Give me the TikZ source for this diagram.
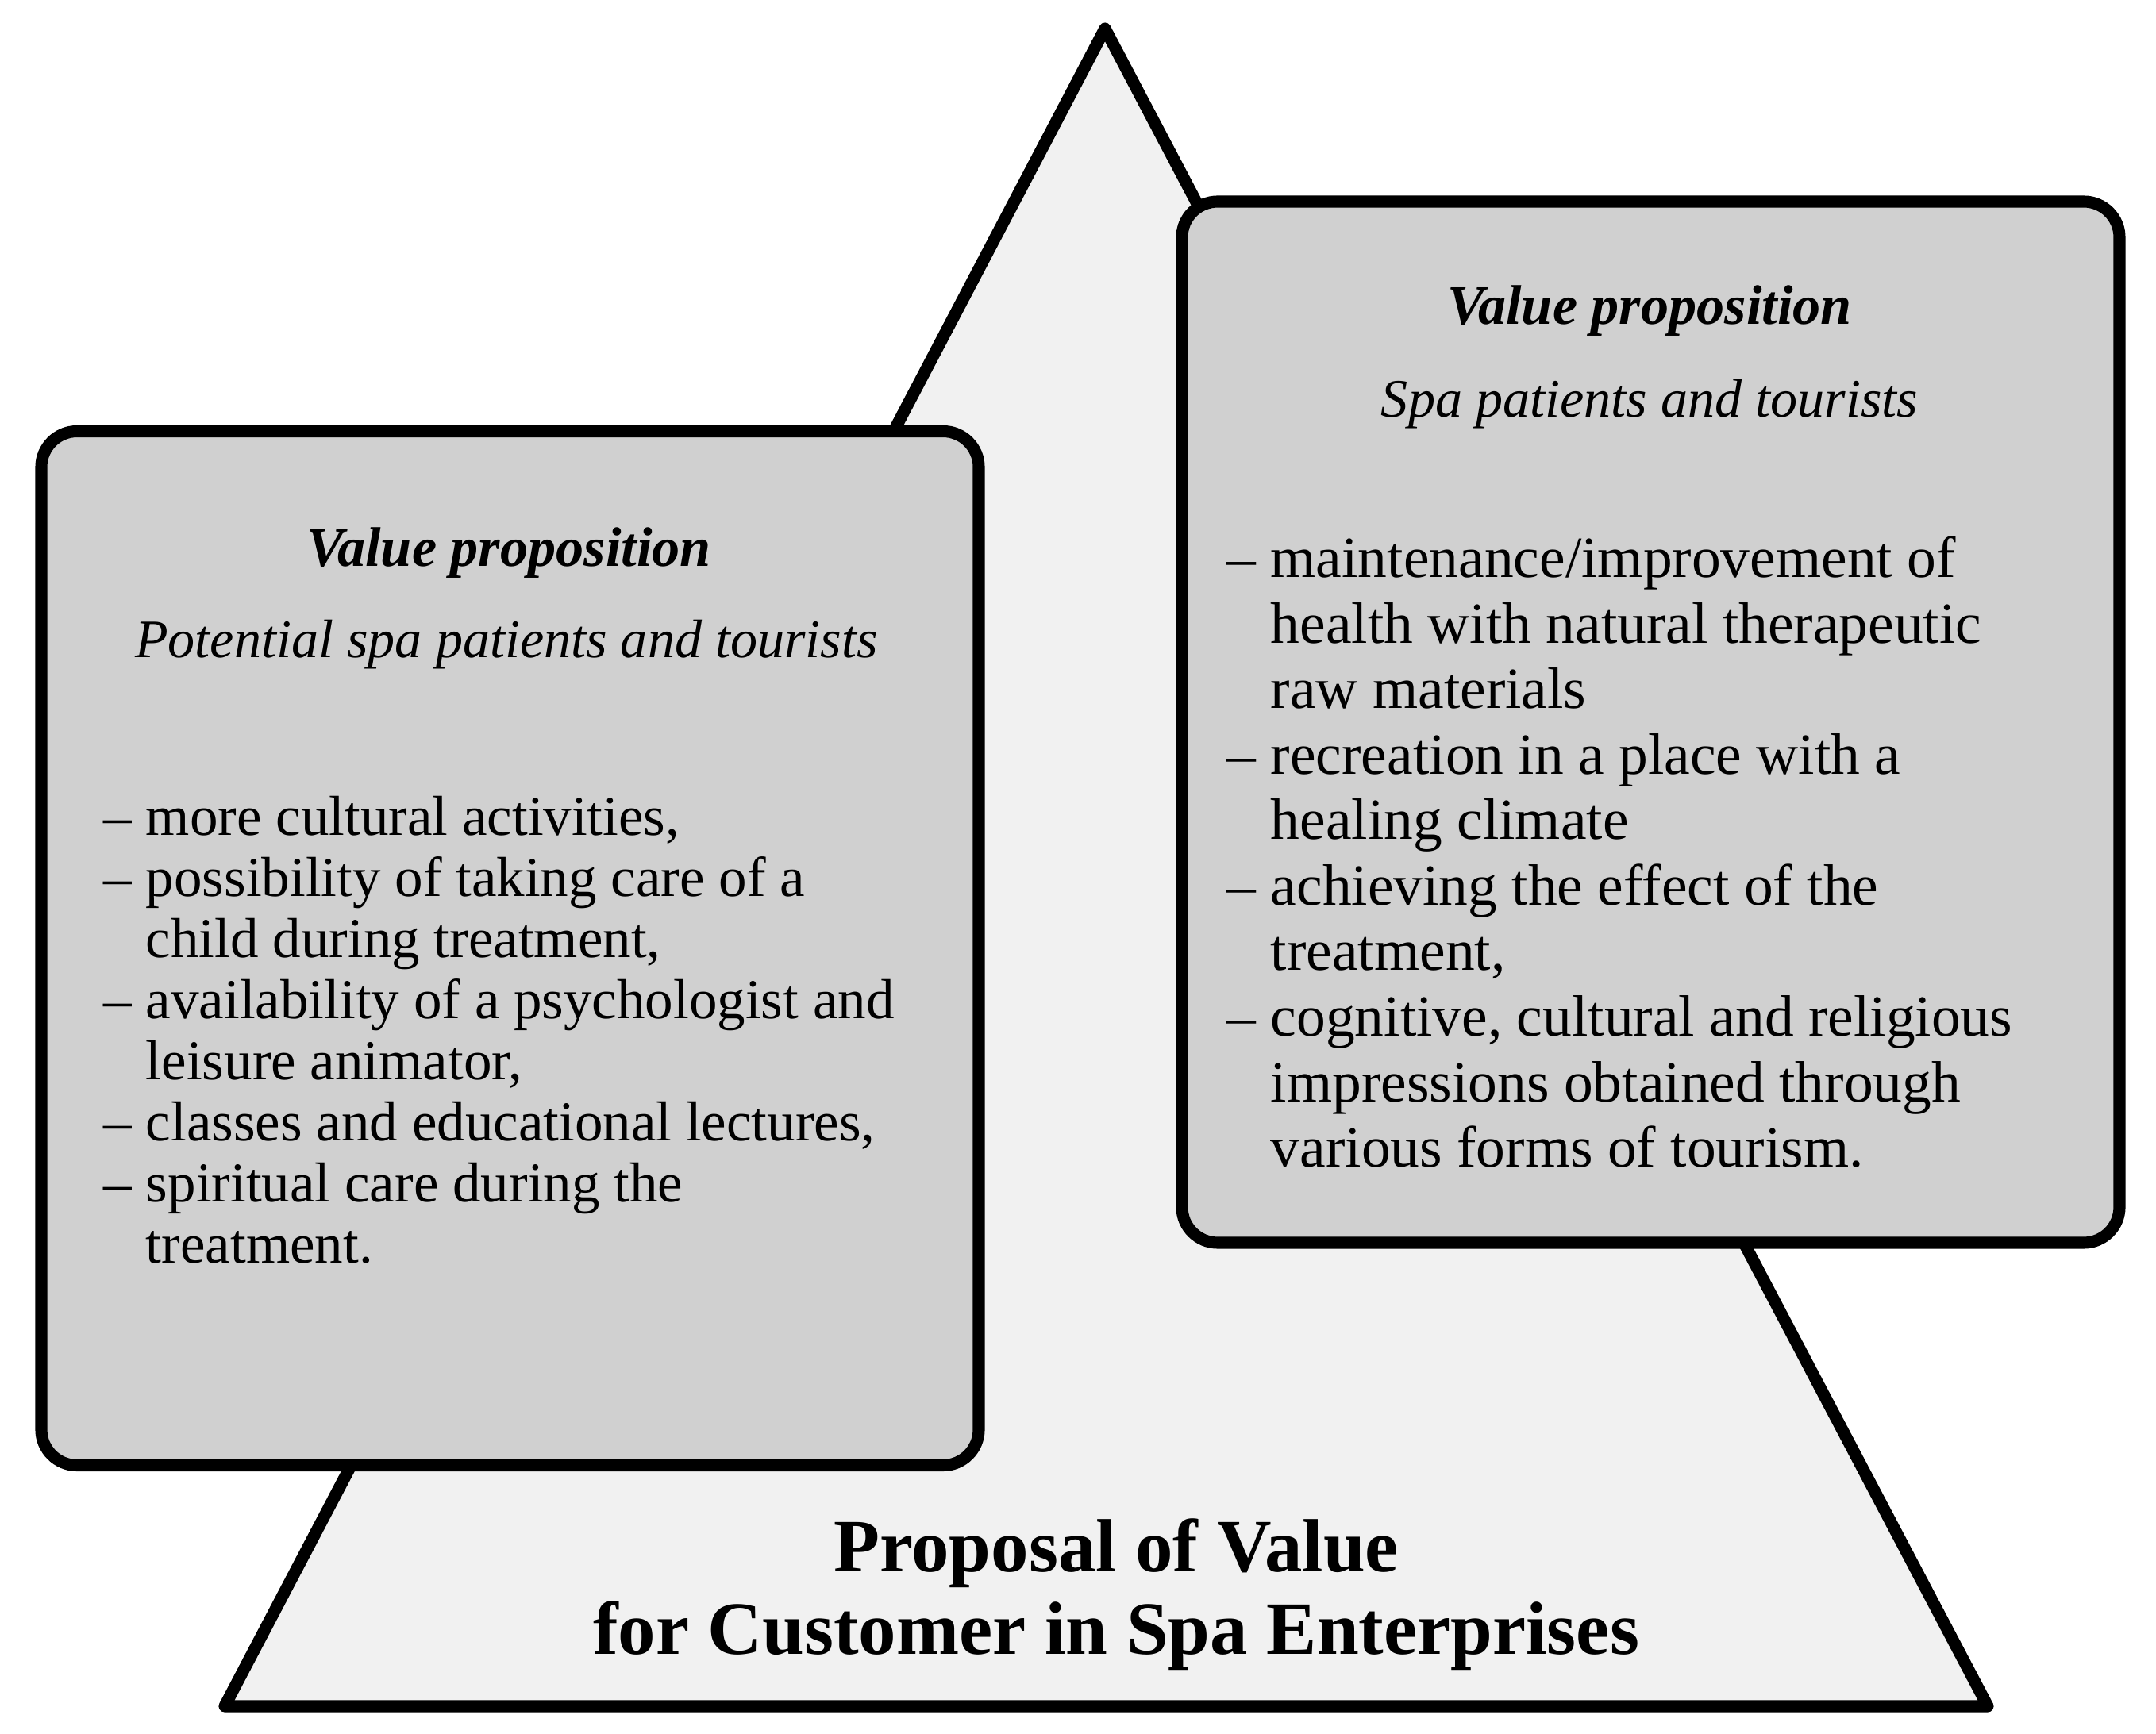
\documentclass[tikz,border=0pt]{standalone}
\usepackage{fontspec}
\setmainfont{Liberation Serif}
\definecolor{boxgray}{HTML}{D0D0D0}
\definecolor{pyramidgray}{HTML}{F1F1F1}
\newcommand{\ind}{\hphantom{– }}

\begin{document}
\begin{tikzpicture}
                    \tikzset{valuebox/.style={draw, line width=4.3pt, rounded corners=0.45cm, fill=boxgray, minimum width=11.81cm}}
                    \tikzset{headtext/.style={inner sep=0pt, font=\fontsize{20}{24}\selectfont}}
                    \tikzset{subtext/.style={inner sep=0pt, font=\fontsize{19.4}{24}\selectfont\itshape}}
                    \tikzset{listtext/.style={anchor=north west, align=left, inner sep=0pt}}
                    \useasboundingbox (0,0) rectangle (27.16,21.84);
                    \draw[line width=4.3pt, line join=round, fill=pyramidgray]
                        (13.92,21.48) coordinate (apex) -- (25.04,0.34) coordinate (baseR)
                        -- (2.83,0.34) coordinate (baseL) -- cycle;
                    \node[valuebox, minimum height=13.03cm] (potential) at (6.425,9.89) {};
                    \node[valuebox, minimum height=13.12cm] (current) at (20.795,12.74) {};
                    \node[headtext] (potentialhead) at (6.41,14.87) {\textbf{\textit{Value proposition}}};
                    \node[subtext] (potentialsub) at (6.38,13.72) {Potential spa patients and tourists};
                    \node[listtext, font=\fontsize{20.2}{21.9}\selectfont] (potentiallist) at (1.30,11.81) {%
                        – more cultural activities,\\
                        – possibility of taking care of a\\
                        \ind child during treatment,\\
                        – availability of a psychologist and\\
                        \ind leisure animator,\\
                        – classes and educational lectures,\\
                        – spiritual care during the\\
                        \ind treatment.};
                    \node[headtext] (currenthead) at (20.78,17.92) {\textbf{\textit{Value proposition}}};
                    \node[subtext] (currentsub) at (20.78,16.75) {Spa patients and tourists};
                    \node[listtext, font=\fontsize{20.9}{23.5}\selectfont] (currentlist) at (15.45,15.09) {%
                        – maintenance/improvement of\\
                        \ind health with natural therapeutic\\
                        \ind raw materials\\
                        – recreation in a place with a\\
                        \ind healing climate\\
                        – achieving the effect of the\\
                        \ind treatment,\\
                        – cognitive, cultural and religious\\
                        \ind impressions obtained through\\
                        \ind various forms of tourism.};
                    \node[align=center, inner sep=0pt, font=\bfseries\fontsize{27}{29.6}\selectfont] (proposal) at (14.06,1.75)
                        {Proposal of Value\\for Customer in Spa Enterprises};
                    \end{tikzpicture}
\end{document}
